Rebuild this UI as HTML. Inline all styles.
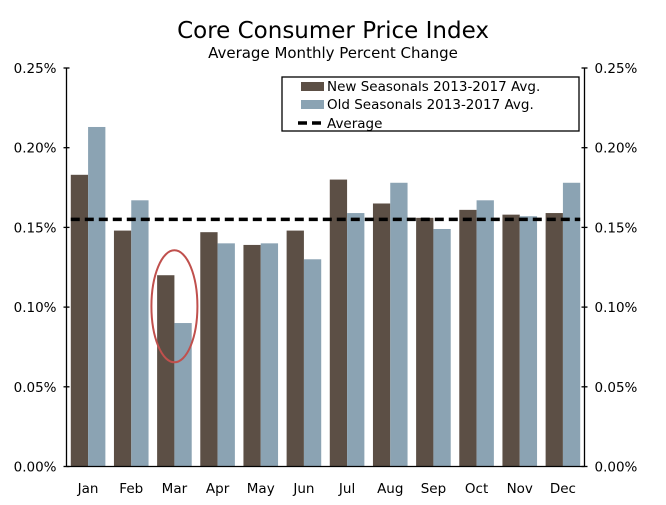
<!DOCTYPE html>
<html><head><meta charset="utf-8"><style>
body{margin:0;background:#fff;}
svg{display:block;font-family:"DejaVu Sans","Liberation Sans",sans-serif;}
</style></head><body>
<svg id="chart" width="666" height="505"></svg>
<script>
const categories=["Jan","Feb","Mar","Apr","May","Jun","Jul","Aug","Sep","Oct","Nov","Dec"];
const newSeasonals=[0.183,0.148,0.120,0.147,0.139,0.148,0.180,0.165,0.156,0.161,0.158,0.159];
const oldSeasonals=[0.213,0.167,0.090,0.140,0.140,0.130,0.159,0.178,0.149,0.167,0.157,0.178];
const averageValue=[0.155];
const tickValues=[0,0.05,0.10,0.15,0.20,0.25];
const tickLabels=["0.00%","0.05%","0.10%","0.15%","0.20%","0.25%"];

const NS="http://www.w3.org/2000/svg";
const svg=document.getElementById('chart');
const L=66.5,R=584.5,T=68,B=466.5;
const y=v=>B-(v/0.25)*(B-T);
const cw=(R-L)/categories.length;
const xc=i=>L+cw*(i+0.5);
function mk(tag,attrs,parent){const e=document.createElementNS(NS,tag);for(const k in attrs)e.setAttribute(k,attrs[k]);(parent||svg).appendChild(e);return e;}

let t=mk('text',{x:333,y:38,'text-anchor':'middle','font-size':23,fill:'#000'});t.textContent='Core Consumer Price Index';

t=mk('text',{x:333,y:58,'text-anchor':'middle','font-size':15,fill:'#000'});t.textContent='Average Monthly Percent Change';


const bw=17.3;
categories.forEach((c,i)=>{
  let r=mk('rect',{x:xc(i)-bw,y:y(newSeasonals[i]),width:bw,height:B-y(newSeasonals[i]),fill:'#5c4f45'});
  
  
  r=mk('rect',{x:xc(i),y:y(oldSeasonals[i]),width:bw,height:B-y(oldSeasonals[i]),fill:'#8ba3b3'});
  
  
  let tx=mk('text',{x:xc(i),y:493,'text-anchor':'middle','font-size':13.5,fill:'#000'});tx.textContent=c;
  
  
});

let avg=mk('line',{x1:xc(0)-bw,x2:xc(11)+bw,y1:y(averageValue[0]),y2:y(averageValue[0]),stroke:'#000','stroke-width':3.5,'stroke-dasharray':'9,5'});



let circ=mk('ellipse',{cx:xc(2),cy:y(0.1005),rx:23,ry:56,fill:'none',stroke:'#c0504d','stroke-width':2});



const ax=mk('g',{stroke:'#000','stroke-width':1.3});


mk('line',{x1:L,x2:L,y1:T,y2:B},ax);
mk('line',{x1:R,x2:R,y1:T,y2:B},ax);
mk('line',{x1:L,x2:R,y1:B,y2:B},ax);
tickValues.forEach((v,i)=>{
  mk('line',{x1:L-3,x2:L+3,y1:y(v),y2:y(v)},ax);
  mk('line',{x1:R-3,x2:R+3,y1:y(v),y2:y(v)},ax);
  let a=mk('text',{x:L-10,y:y(v)+5,'text-anchor':'end','font-size':13.5,fill:'#000'});a.textContent=tickLabels[i];
  
  
  let b=mk('text',{x:R+10,y:y(v)+5,'font-size':13.5,fill:'#000'});b.textContent=tickLabels[i];
  
  
});

const lg=mk('g',{});


mk('rect',{x:282,y:77,width:297,height:54,fill:'#fff',stroke:'#000','stroke-width':1.3},lg);
mk('rect',{x:301,y:82,width:23,height:9,fill:'#5c4f45'},lg);
mk('rect',{x:301,y:100,width:23,height:9,fill:'#8ba3b3'},lg);
mk('line',{x1:298,x2:326,y1:123,y2:123,stroke:'#000','stroke-width':3.5,'stroke-dasharray':'9,5'},lg);
[["New Seasonals 2013-2017 Avg.",91],["Old Seasonals 2013-2017 Avg.",109],["Average",128]].forEach(([s,yy])=>{
  let e=mk('text',{x:327,y:yy,'font-size':13.5,fill:'#000'},lg);e.textContent=s;
  
  
});
</script>
</body></html>
